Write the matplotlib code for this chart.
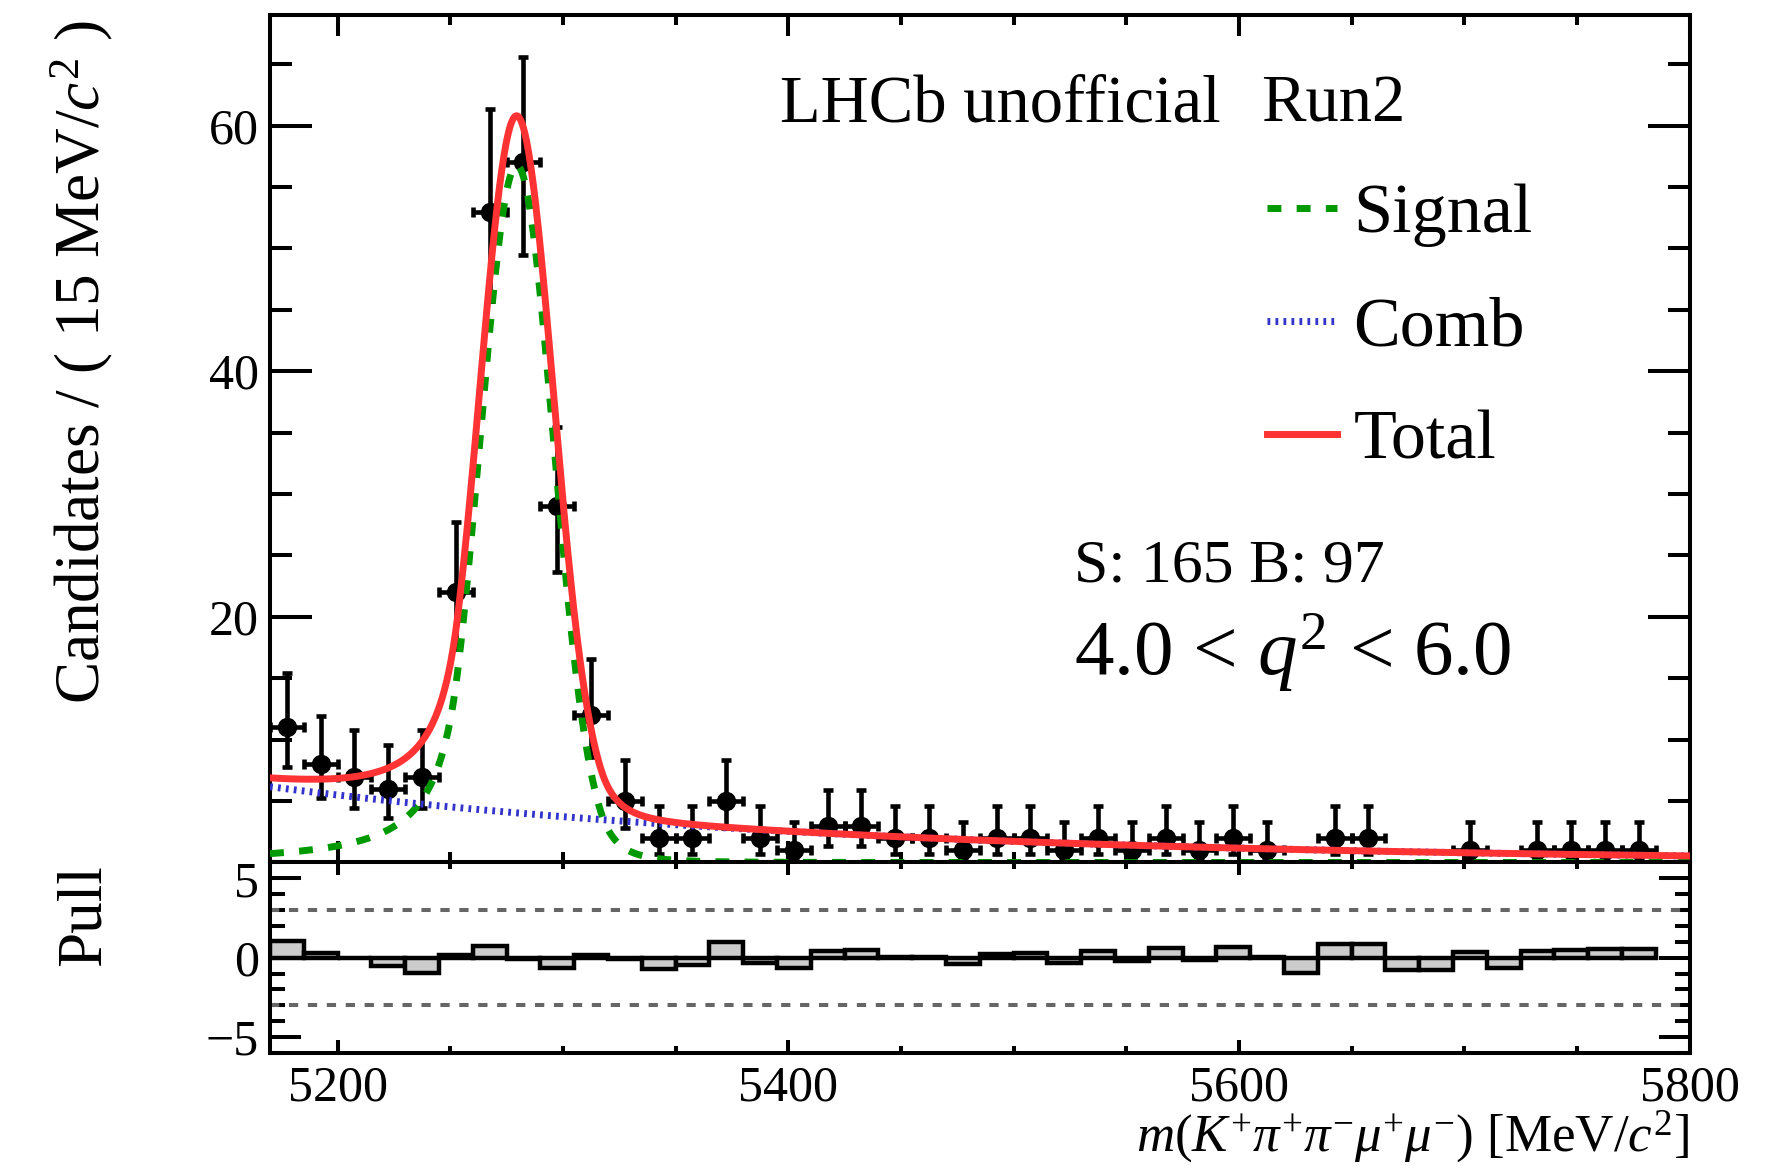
import math
import numpy as np
import matplotlib
matplotlib.use("Agg")
import matplotlib.pyplot as plt
from matplotlib.ticker import MultipleLocator, FixedLocator

plt.rcParams['font.family'] = ['Liberation Serif', 'DejaVu Serif']
plt.rcParams['mathtext.fontset'] = 'custom'
plt.rcParams['mathtext.rm'] = 'Liberation Serif'
plt.rcParams['mathtext.it'] = 'Liberation Serif:italic'
plt.rcParams['mathtext.bf'] = 'Liberation Serif:bold'

# binning
x_lo, x_hi, bin_w = 5170, 5800, 15

# candidates per 15 MeV bin
counts = [11, 8, 7, 6, 7, 22, 53, 57, 29, 12,
          5, 2, 2, 5, 2, 1, 3, 3, 2, 2,
          1, 2, 2, 1, 2, 1, 2, 1, 2, 1,
          0, 2, 2, 0, 0, 1, 0, 1, 1, 1,
          1, 0]

# pull per bin (last bin not drawn)
pulls = [1.08, 0.28, -0.04, -0.55, -0.94, 0.19, 0.77, -0.08, -0.62, 0.19,
         -0.08, -0.72, -0.47, 1.02, -0.34, -0.66, 0.45, 0.51, 0.02, 0.02,
         -0.4, 0.23, 0.28, -0.3, 0.45, -0.2, 0.6, -0.13, 0.7, 0.02,
         -0.94, 0.85, 0.87, -0.77, -0.77, 0.34, -0.64, 0.43, 0.51, 0.55,
         0.55, np.nan]

# fit result
n_sig, n_comb = 165, 97
mean, sigma = 5279.5, 16.3
alpha_l, n_l = 1.6, 1.8
alpha_r, n_r = 2.3, 4.0
comb_slope = -0.00387


def dcb(x):
    t = (x - mean) / sigma
    out = np.exp(-0.5 * t ** 2)
    a_l = (n_l / alpha_l) ** n_l * math.exp(-0.5 * alpha_l ** 2)
    b_l = n_l / alpha_l - alpha_l
    a_r = (n_r / alpha_r) ** n_r * math.exp(-0.5 * alpha_r ** 2)
    b_r = n_r / alpha_r - alpha_r
    left = t < -alpha_l
    right = t > alpha_r
    out[left] = a_l * (b_l - t[left]) ** (-n_l)
    out[right] = a_r * (b_r + t[right]) ** (-n_r)
    return out


def pois_cdf(k, mu):
    return sum(math.exp(-mu + i * math.log(mu) - math.lgamma(i + 1)) for i in range(k + 1))


def poisson_interval(n, cl=0.6827):
    a = (1 - cl) / 2
    lo = 0.0
    if n > 0:
        l, h = 1e-6, n
        for _ in range(60):
            m = 0.5 * (l + h)
            if 1 - pois_cdf(n - 1, m) < a:
                l = m
            else:
                h = m
        lo = 0.5 * (l + h)
    l, h = n, n + 10 * math.sqrt(n + 1) + 5
    for _ in range(60):
        m = 0.5 * (l + h)
        if pois_cdf(n, m) > a:
            l = m
        else:
            h = m
    return lo, 0.5 * (l + h)


edges = np.arange(x_lo, x_hi + bin_w / 2, bin_w)
centers = edges[:-1] + bin_w / 2
counts = np.array(counts)
pulls = np.array(pulls)

mass = np.linspace(x_lo, x_hi, 2000)
sig_shape = dcb(mass)
sig = n_sig * bin_w * sig_shape / np.trapezoid(sig_shape, mass)
comb_shape = np.exp(comb_slope * (mass - x_lo))
comb = n_comb * bin_w * comb_shape / np.trapezoid(comb_shape, mass)
total = sig + comb

has = counts > 0
err = np.array([poisson_interval(int(n)) for n in counts[has]])
yerr = [counts[has] - err[:, 0], err[:, 1] - counts[has]]

fig = plt.figure(figsize=(17.66, 11.68), dpi=100)
ax = fig.add_axes([0.15289, 0.26156, 0.8038, 0.7256])
axp = fig.add_axes([0.15289, 0.09846, 0.8038, 0.1631], sharex=ax)

ax.errorbar(centers[has], counts[has], xerr=bin_w / 2, yerr=yerr, fmt='o', color='black',
            ms=13, lw=3.3, capsize=3.6, capthick=3.3, zorder=2)
l_sig, = ax.plot(mass, sig, color='#009900', lw=5, ls=(0, (2.0, 2.2)), zorder=3, label='Signal')
l_comb, = ax.plot(mass, comb, color='#3333cc', lw=5, ls=(0, (0.4, 0.75)), zorder=4, label='Comb')
l_tot, = ax.plot(mass, total, color='#ff3333', lw=5, zorder=5, label='Total')

ax.set_xlim(x_lo, x_hi)
ax.set_ylim(0, 69)
ax.yaxis.set_major_locator(FixedLocator([20, 40, 60]))
ax.yaxis.set_minor_locator(MultipleLocator(5))
ax.xaxis.set_major_locator(MultipleLocator(200))
ax.xaxis.set_minor_locator(MultipleLocator(50))
ax.tick_params(labelbottom=False)

ok = ~np.isnan(pulls)
axp.bar(centers[ok], pulls[ok], width=bin_w, color='#cccccc', edgecolor='black', linewidth=3.2, zorder=3)
for lvl in (3, -3):
    axp.axhline(lvl, color='#666666', lw=2.9, ls=(0, (2.3, 2.4)), zorder=2)
axp.set_ylim(-6, 6)
axp.yaxis.set_major_locator(MultipleLocator(5))
axp.yaxis.set_minor_locator(MultipleLocator(1))

for a in (ax, axp):
    for s in a.spines.values():
        s.set_linewidth(2.9)
    a.tick_params(which='both', direction='in', top=True, right=True, width=2.9,
                  labelsize=36, pad=8)
ax.tick_params(axis='y', which='major', length=30)
ax.tick_params(axis='y', which='minor', length=16)
ax.tick_params(axis='x', which='major', length=15)
ax.tick_params(axis='x', which='minor', length=7.5)
axp.tick_params(axis='y', which='major', length=22)
axp.tick_params(axis='y', which='minor', length=11)
axp.tick_params(axis='x', which='major', length=9.5)
axp.tick_params(axis='x', which='minor', length=5)
axp.tick_params(axis='x', pad=9)

W, H = 1766, 1168
fig.text(99 / W, 1 - 20 / H, r'Candidates / ( 15 MeV/$c^{2}$ )', fontsize=45.5, rotation=90,
         rotation_mode='anchor', ha='right', va='baseline')
fig.text(100 / W, 1 - 864 / H, 'Pull', fontsize=45.5, rotation=90,
         rotation_mode='anchor', ha='right', va='baseline')
fig.text(1689 / W, 1 - 1151 / H, r'$m(K^{+}\pi^{+}\pi^{-}\mu^{+}\mu^{-})$ [MeV/$c^{2}$]',
         fontsize=38.2, ha='right', va='baseline')

fig.text(780 / W, 1 - 121 / H, 'LHCb unofficial', fontsize=48, va='baseline')
fig.text(1261 / W, 1 - 121 / H, 'Run2', fontsize=48, va='baseline')
fig.text(1074 / W, 1 - 582 / H, 'S: 165 B: 97', fontsize=44.5, va='baseline')
fig.text(1074 / W, 1 - 675 / H, r'4.0 < $q^{2}$ < 6.0', fontsize=57, va='baseline')

ax.legend(handles=[l_sig, l_comb, l_tot], loc='upper left', bbox_to_anchor=(1267 / W, 1 - 183 / H),
          bbox_transform=fig.transFigure, frameon=False, fontsize=50.5, handlelength=1.0,
          handletextpad=0.23, labelspacing=0.70, borderpad=0, borderaxespad=0)

fig.savefig('out.png', dpi=100)
